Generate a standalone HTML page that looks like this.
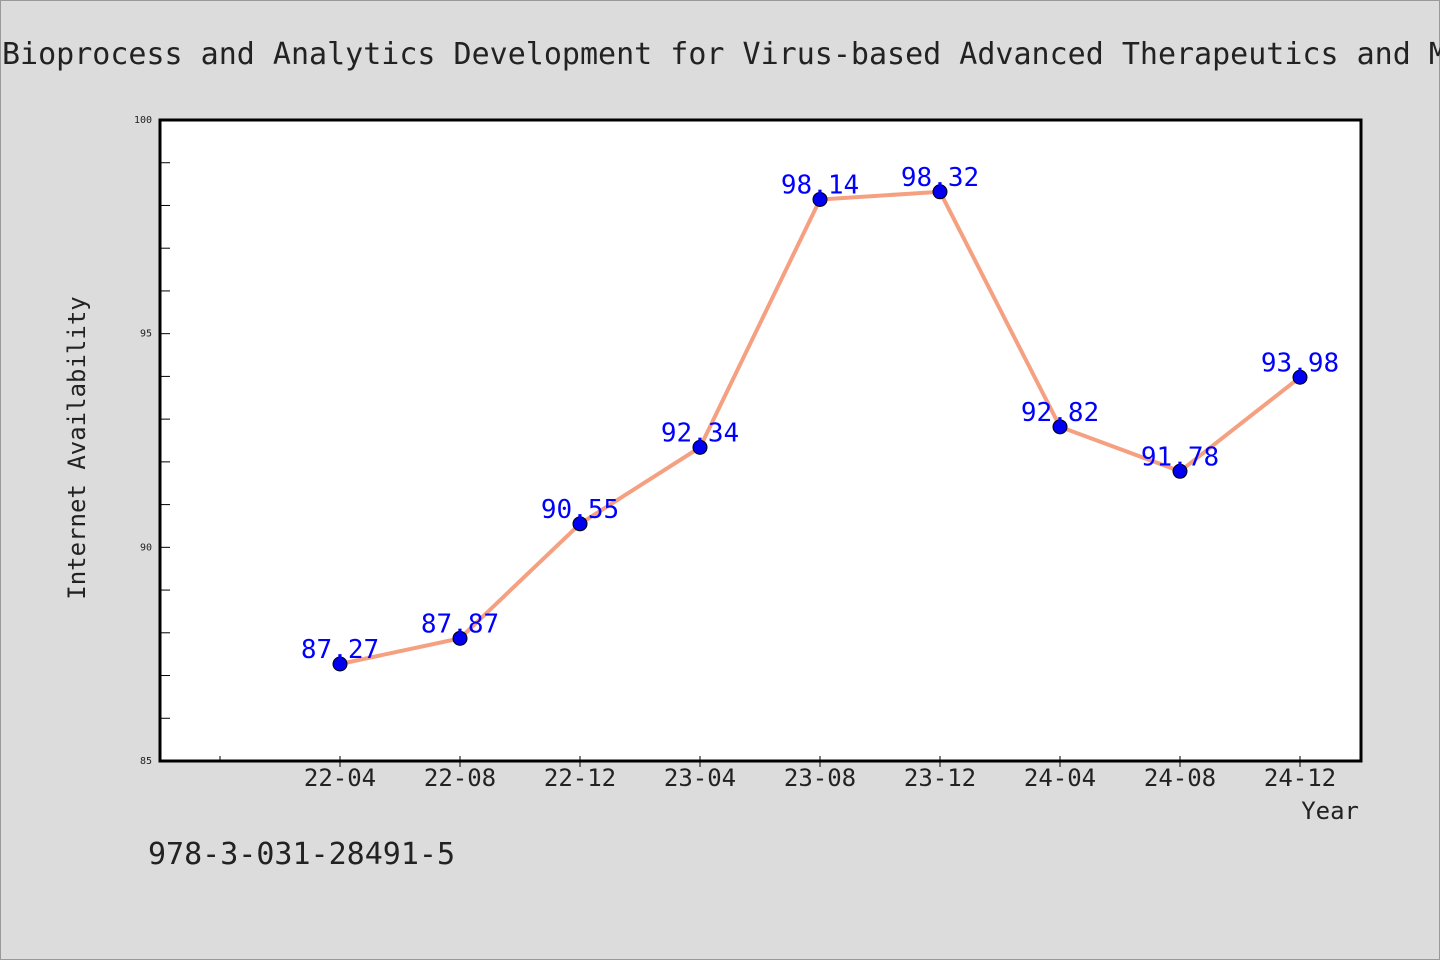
<!DOCTYPE html>
<html><head><meta charset="utf-8"><style>
html,body{margin:0;padding:0;background:#dcdcdc;}
svg{display:block;font-family:"WenQuanYi Zen Hei Mono","WenQuanYi Zen Hei","DejaVu Sans Mono",monospace;}
</style></head><body>
<svg id="chart" width="1440" height="960">
<rect x="0.5" y="0.5" width="1439" height="959" fill="#dcdcdc" stroke="#999"/>
<text x="2" y="64" text-anchor="start" font-size="30" fill="#222">Bioprocess and Analytics Development for Virus-based Advanced Therapeutics and Medicinal Products</text>
<rect x="160" y="120" width="1201" height="641" fill="#fff" stroke="#000" stroke-width="3"/>
<g id="yaxis"></g>
<g id="xaxis"></g>
<text transform="translate(85,448) rotate(-90)" text-anchor="middle" font-size="24" fill="#222">Internet Availability</text>
<text x="1359" y="819" text-anchor="end" font-size="24" fill="#222">Year</text>
<text x="148" y="864" font-size="30" fill="#222">978-3-031-28491-5</text>
<g id="series"></g>
</svg>
<script>
const categories=["22-04","22-08","22-12","23-04","23-08","23-12","24-04","24-08","24-12"];
const values=[87.27,87.87,90.55,92.34,98.14,98.32,92.82,91.78,93.98];
const yTickLabels=[85,90,95,100];
const NS="http://www.w3.org/2000/svg";
const yMin=85,yMax=100,yTop=120,yBot=761;
function y(v){return yBot-(v-yMin)/(yMax-yMin)*(yBot-yTop);}
function x(i){return 340+120*i;}
function mk(t,a,p){const e=document.createElementNS(NS,t);for(const k in a)e.setAttribute(k,a[k]);p.appendChild(e);return e;}
const ya=document.getElementById('yaxis'),xa=document.getElementById('xaxis'),s=document.getElementById('series');
for(let v=yMin;v<=yMax;v++){const l=mk('line',{x1:160,x2:170,y1:y(v),y2:y(v),stroke:'#000','stroke-width':1},ya);

}
yTickLabels.forEach(v=>{const t=mk('text',{x:152,y:y(v)+3,'text-anchor':'end','font-size':10,fill:'#222'},ya);t.textContent=v;

});
const l0=mk('line',{x1:220,x2:220,y1:yBot-5,y2:yBot,stroke:'#000'},xa);


categories.forEach((c,i)=>{const l=mk('line',{x1:x(i),x2:x(i),y1:yBot-5,y2:yBot+6,stroke:'#000'},xa);


const t=mk('text',{x:x(i),y:786,'text-anchor':'middle','font-size':24,fill:'#222'},xa);t.textContent=c;

});
const pl=mk('polyline',{points:values.map((v,i)=>x(i)+','+y(v)).join(' '),fill:'none',stroke:'#f5a080','stroke-width':4},s);


values.forEach((v,i)=>{const c=mk('circle',{cx:x(i),cy:y(v),r:7,fill:'#0000ee',stroke:'#000','stroke-width':1},s);


const t=mk('text',{x:x(i),y:y(v)-6,'text-anchor':'middle','font-size':26,fill:'#0000ff'},s);t.textContent=v.toFixed(2);

});
</script>
</body></html>
